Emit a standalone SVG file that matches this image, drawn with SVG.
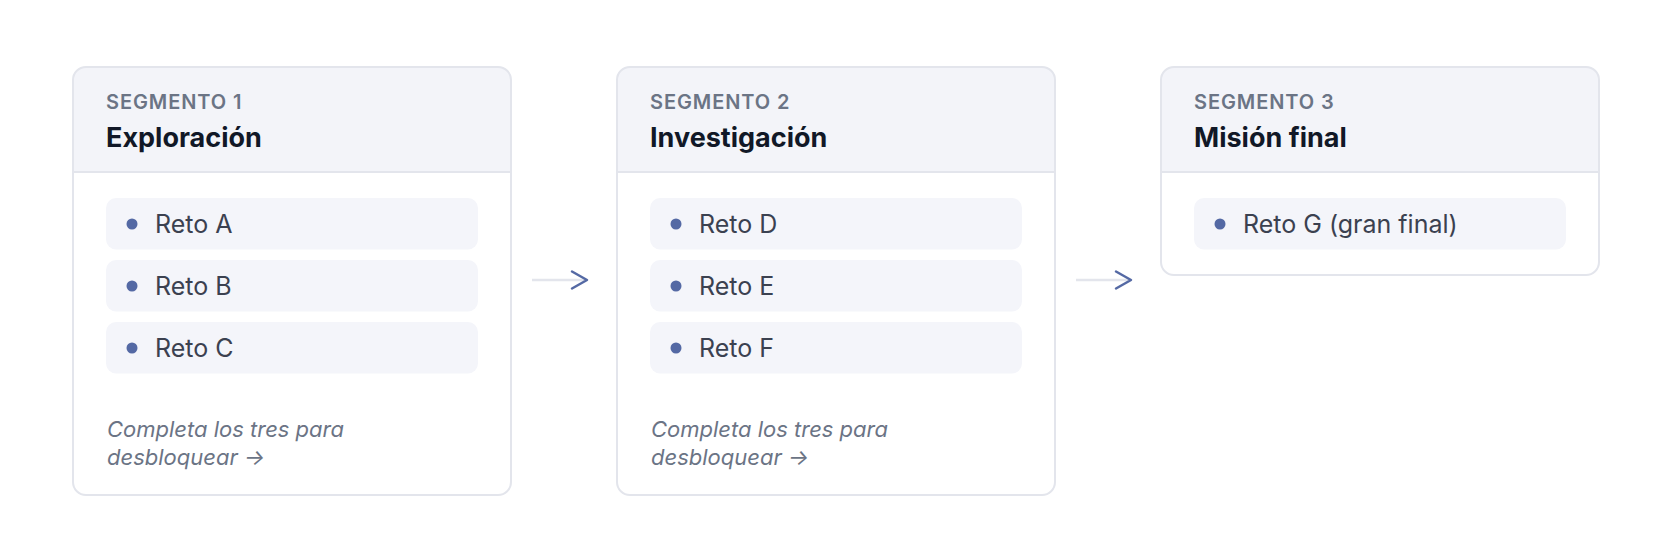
<svg xmlns="http://www.w3.org/2000/svg" width="1672" height="560" viewBox="0 0 1672 560">
<defs>
<style>
.bg{fill:#ffffff}
.card{fill:none;stroke:#e3e5ec;stroke-width:2}
.hdr{fill:#f3f4f9}
.div{stroke:#e3e5ec;stroke-width:2}
.seg{font-family:Inter,"Noto Sans",sans-serif;font-size:20px;font-weight:600;fill:#6b7485;letter-spacing:0.9px}
.ttl{font-family:Inter,"Noto Sans",sans-serif;font-size:27px;font-weight:700;fill:#111827}
.item{fill:#f4f5fa}
.dot{fill:#5469a4}
.itx{font-family:Inter,"Noto Sans",sans-serif;font-size:25px;font-weight:400;fill:#3b4150}
.note{font-family:Inter,"Noto Sans",sans-serif;font-size:22px;font-style:italic;fill:#6b7485}
.ln{stroke:#e3e5ec;stroke-width:2.5;fill:none}
.hd{stroke:#5469a4;stroke-width:2.5;fill:none;stroke-linecap:round;stroke-linejoin:round}
</style>
<clipPath id="c1"><rect x="73" y="67" width="438" height="428" rx="13"/></clipPath>
<clipPath id="c2"><rect x="617" y="67" width="438" height="428" rx="13"/></clipPath>
<clipPath id="c3"><rect x="1161" y="67" width="438" height="208" rx="13"/></clipPath>
</defs>
<rect width="1672" height="560" fill="#ffffff"/>
<g id="connectors">
<line class="ln" x1="532" y1="280" x2="586" y2="280"/>
<polyline class="hd" points="572,271.5 587,280 572,288.5"/>
<line class="ln" x1="1076" y1="280" x2="1130" y2="280"/>
<polyline class="hd" points="1116,271.5 1131,280 1116,288.5"/>
</g>
<g id="segment1">
<rect class="bg" x="73" y="67" width="438" height="428" rx="13"/>
<rect class="hdr" x="73" y="67" width="438" height="105" clip-path="url(#c1)"/>
<line class="div" x1="73" y1="172" x2="511" y2="172"/>
<rect class="card" x="73" y="67" width="438" height="428" rx="13"/>
<text class="seg" x="106" y="109">SEGMENTO 1</text>
<text class="ttl" x="106" y="146.5">Exploración</text>
<rect class="item" x="106" y="198" width="372" height="51.5" rx="10"/>
<circle class="dot" cx="132" cy="224" r="5.5"/>
<text class="itx" x="155" y="233">Reto A</text>
<rect class="item" x="106" y="260" width="372" height="51.5" rx="10"/>
<circle class="dot" cx="132" cy="286" r="5.5"/>
<text class="itx" x="155" y="295">Reto B</text>
<rect class="item" x="106" y="322" width="372" height="51.5" rx="10"/>
<circle class="dot" cx="132" cy="348" r="5.5"/>
<text class="itx" x="155" y="357">Reto C</text>
<text class="note" x="107" y="437">Completa los tres para</text>
<text class="note" x="107" y="465">desbloquear →</text>
</g>
<g id="segment2">
<rect class="bg" x="617" y="67" width="438" height="428" rx="13"/>
<rect class="hdr" x="617" y="67" width="438" height="105" clip-path="url(#c2)"/>
<line class="div" x1="617" y1="172" x2="1055" y2="172"/>
<rect class="card" x="617" y="67" width="438" height="428" rx="13"/>
<text class="seg" x="650" y="109">SEGMENTO 2</text>
<text class="ttl" x="650" y="146.5">Investigación</text>
<rect class="item" x="650" y="198" width="372" height="51.5" rx="10"/>
<circle class="dot" cx="676" cy="224" r="5.5"/>
<text class="itx" x="699" y="233">Reto D</text>
<rect class="item" x="650" y="260" width="372" height="51.5" rx="10"/>
<circle class="dot" cx="676" cy="286" r="5.5"/>
<text class="itx" x="699" y="295">Reto E</text>
<rect class="item" x="650" y="322" width="372" height="51.5" rx="10"/>
<circle class="dot" cx="676" cy="348" r="5.5"/>
<text class="itx" x="699" y="357">Reto F</text>
<text class="note" x="651" y="437">Completa los tres para</text>
<text class="note" x="651" y="465">desbloquear →</text>
</g>
<g id="segment3">
<rect class="bg" x="1161" y="67" width="438" height="208" rx="13"/>
<rect class="hdr" x="1161" y="67" width="438" height="105" clip-path="url(#c3)"/>
<line class="div" x1="1161" y1="172" x2="1599" y2="172"/>
<rect class="card" x="1161" y="67" width="438" height="208" rx="13"/>
<text class="seg" x="1194" y="109">SEGMENTO 3</text>
<text class="ttl" x="1194" y="146.5">Misión final</text>
<rect class="item" x="1194" y="198" width="372" height="51.5" rx="10"/>
<circle class="dot" cx="1220" cy="224" r="5.5"/>
<text class="itx" x="1243" y="233">Reto G (gran final)</text>
</g>
</svg>
